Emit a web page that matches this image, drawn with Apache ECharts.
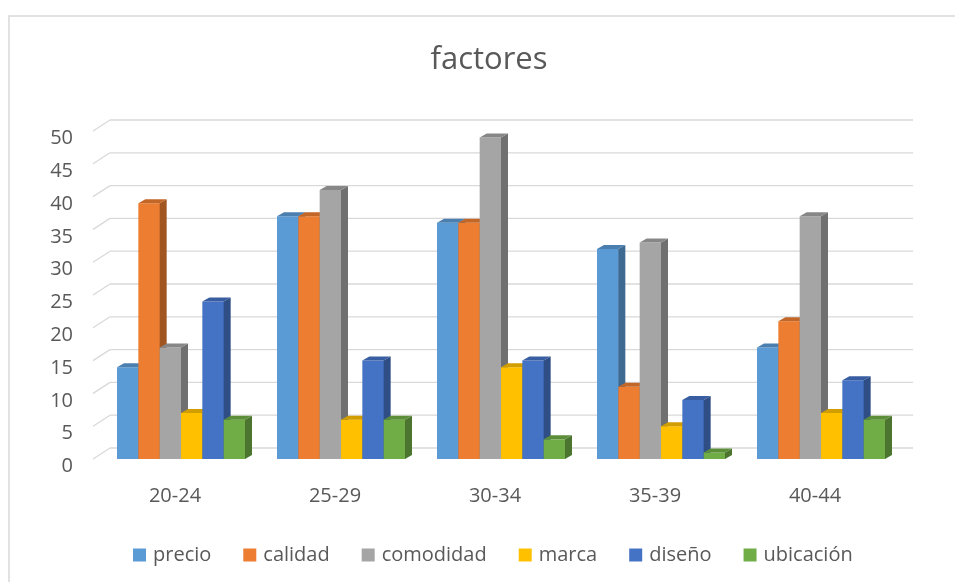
<!DOCTYPE html>
<html>
<head>
<meta charset="utf-8">
<script src="https://cdn.jsdelivr.net/npm/echarts@6/dist/echarts.min.js"></script>
<style>
  html, body { margin: 0; padding: 0; background: #ffffff; }
  #chart { width: 955px; height: 582px; }
</style>
</head>
<body>
<div id="chart"></div>
<script>
// Age groups and the share of respondents citing each purchase factor
const categories = ['20-24', '25-29', '30-34', '35-39', '40-44'];
const precio    = [14, 37, 36, 32, 17];
const calidad   = [39, 37, 36, 11, 21];
const comodidad = [17, 41, 49, 33, 37];
const marca     = [7, 6, 14, 5, 7];
const diseno    = [24, 15, 15, 9, 12];
const ubicacion = [6, 6, 3, 1, 6];
const yTicks = [0, 5, 10, 15, 20, 25, 30, 35, 40, 45, 50];

const seriesNames = ['precio', 'calidad', 'comodidad', 'marca', 'diseño', 'ubicación'];
const seriesValues = [precio, calidad, comodidad, marca, diseno, ubicacion];
const colors = ['#5B9BD5', '#ED7D31', '#A5A5A5', '#FFC000', '#4472C4', '#70AD47'];

const TEXT = '#595959';
const FONT = '"Open Sans", "Noto Sans", sans-serif';
const DEPTH_X = 7, DEPTH_Y = 4;      // bar depth
const WALL_X = 9, WALL_Y = 11;       // back wall offset

function shade(hex, f) {
  const n = parseInt(hex.slice(1), 16);
  const r = Math.round(((n >> 16) & 255) * f);
  const g = Math.round(((n >> 8) & 255) * f);
  const b = Math.round((n & 255) * f);
  return 'rgb(' + r + ',' + g + ',' + b + ')';
}

// Extruded column: front face, right side and top
function renderBar(params, api) {
  const si = params.seriesIndex;
  const color = colors[si];
  const cat = api.value(0);
  const val = api.value(1);
  const base = api.coord([cat, 0]);
  const top = api.coord([cat, val]);
  const band = api.size([1, 0])[0];
  const barW = band * 0.8 / seriesNames.length;
  const x0 = base[0] - band * 0.4 + si * barW;
  const x1 = x0 + barW;
  const yb = base[1], yt = top[1];
  return {
    type: 'group',
    children: [
      { type: 'rect', shape: { x: x0, y: yt, width: barW + 0.5, height: yb - yt },
        style: { fill: color } },
      { type: 'polygon', shape: { points: [[x1, yt], [x1 + DEPTH_X, yt - DEPTH_Y], [x1 + DEPTH_X, yb - DEPTH_Y], [x1, yb]] },
        style: { fill: shade(color, 0.68) } },
      { type: 'polygon', shape: { points: [[x0, yt], [x1, yt], [x1 + DEPTH_X, yt - DEPTH_Y], [x0 + DEPTH_X, yt - DEPTH_Y]] },
        style: { fill: shade(color, 0.82) } }
    ]
  };
}

// Back wall gridlines with the slanted floor edge at the left
function renderWall(params, api) {
  const cs = params.coordSys;
  const p = api.coord([0, api.value(0)]);
  const y = p[1];
  const xl = cs.x;
  const xr = cs.x + cs.width + WALL_X + 3;
  const st = { stroke: '#D9D9D9', lineWidth: 1.3 };
  return {
    type: 'group',
    children: [
      { type: 'line', shape: { x1: xl - 8, y1: y, x2: xl + WALL_X, y2: y - WALL_Y }, style: st },
      { type: 'line', shape: { x1: xl + WALL_X, y1: y - WALL_Y, x2: xr, y2: y - WALL_Y }, style: st }
    ]
  };
}

const series = seriesNames.map(function (name, i) {
  return {
    name: name,
    type: 'custom',
    z: 3,
    renderItem: renderBar,
    encode: { x: 0, y: 1 },
    data: seriesValues[i].map(function (v, c) { return [c, v]; })
  };
});
series.push({
  name: 'wall',
  type: 'custom',
  z: 1,
  silent: true,
  renderItem: renderWall,
  encode: { y: 0 },
  data: yTicks.map(function (t) { return [t]; })
});

const chart = echarts.init(document.getElementById('chart'), null, { renderer: 'canvas' });
chart.setOption({
  animation: false,
  backgroundColor: '#ffffff',
  color: colors,
  textStyle: { fontFamily: FONT },
  title: {
    text: 'factores',
    left: 484,
    top: 40,
    textAlign: 'center',
    textStyle: { color: TEXT, fontSize: 31, fontWeight: 'normal', fontFamily: FONT }
  },
  graphic: [{
    type: 'rect',
    shape: { x: 9, y: 16, width: 1000, height: 700 },
    style: { fill: 'none', stroke: '#D9D9D9', lineWidth: 1.5 },
    silent: true
  }],
  legend: {
    data: seriesNames,
    left: 128,
    top: 540,
    icon: 'rect',
    itemWidth: 13,
    itemHeight: 13,
    itemGap: 32,
    textStyle: { color: TEXT, fontSize: 20, fontFamily: FONT, padding: [0, 0, 0, 2] }
  },
  grid: { left: 101, right: 54, top: 131, bottom: 123, containLabel: false },
  xAxis: {
    type: 'category',
    data: categories,
    axisLine: { show: false },
    axisTick: { show: false },
    splitLine: { show: false },
    axisLabel: { color: TEXT, fontSize: 20, fontFamily: FONT, margin: 27, padding: [0, 12, 0, 0] }
  },
  yAxis: {
    type: 'value',
    min: 0,
    max: 50,
    interval: 5,
    axisLine: { show: false },
    axisTick: { show: false },
    splitLine: { show: false },
    axisLabel: { color: TEXT, fontSize: 20, fontFamily: FONT, margin: 28, verticalAlign: 'top', lineHeight: 15 }
  },
  series: series
});
</script>
</body>
</html>
